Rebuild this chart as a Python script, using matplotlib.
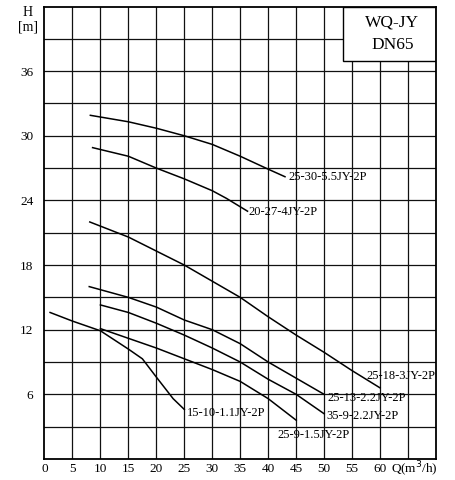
import matplotlib
matplotlib.use("Agg")
import matplotlib.pyplot as plt
from matplotlib.patches import Rectangle

plt.rcParams['font.family'] = ['Liberation Serif', 'DejaVu Serif']

# ---- data (Q in m3/h, H in m) ----
q_25_30 = [8.2, 15, 20, 25, 30, 35, 40, 43]
h_25_30 = [31.9, 31.3, 30.7, 30.0, 29.2, 28.1, 26.9, 26.2]

q_20_27 = [8.6, 15, 20, 25, 30, 32.5, 36.3]
h_20_27 = [28.9, 28.1, 27.0, 26.0, 24.9, 24.2, 23.0]

q_25_18 = [8.1, 15, 20, 25, 30, 35, 40, 45, 50, 55, 60]
h_25_18 = [22.0, 20.6, 19.3, 18.0, 16.5, 15.0, 13.2, 11.5, 9.9, 8.2, 6.6]

q_25_13 = [8.0, 15, 20, 25, 30, 35, 40, 45, 50]
h_25_13 = [16.0, 15.0, 14.1, 12.9, 12.0, 10.7, 9.0, 7.5, 6.0]

q_35_9 = [10, 15, 20, 25, 30, 35, 40, 45, 50]
h_35_9 = [14.3, 13.6, 12.6, 11.5, 10.3, 9.0, 7.4, 6.0, 4.2]

q_25_9 = [10, 15, 20, 25, 30, 35, 40, 45]
h_25_9 = [12.1, 11.2, 10.3, 9.3, 8.3, 7.2, 5.6, 3.6]

q_15_10 = [1.0, 5, 10, 15, 17.5, 20, 23, 25]
h_15_10 = [13.6, 12.8, 11.9, 10.2, 9.3, 7.6, 5.6, 4.6]

names = ["25-30-5.5JY-2P", "20-27-4JY-2P", "25-18-3JY-2P", "25-13-2.2JY-2P",
         "35-9-2.2JY-2P", "25-9-1.5JY-2P", "15-10-1.1JY-2P"]
label_pos = [(43.6, 26.2), (36.5, 22.9), (57.6, 7.7), (50.6, 5.7),
             (50.4, 4.0), (41.6, 2.2), (25.4, 4.3)]

x_ticks = [0, 5, 10, 15, 20, 25, 30, 35, 40, 45, 50, 55, 60]
y_ticks = [6, 12, 18, 24, 30, 36]

series = [(q_25_30, h_25_30), (q_20_27, h_20_27), (q_25_18, h_25_18),
          (q_25_13, h_25_13), (q_35_9, h_35_9), (q_25_9, h_25_9),
          (q_15_10, h_15_10)]

fig = plt.figure(figsize=(4.56, 4.80), dpi=100)
ax = fig.add_axes([44.5 / 456, 1 - 459 / 480, (436 - 44.5) / 456, (459 - 6.5) / 480])
ax.set_xlim(0, 70)
ax.set_ylim(0, 42)

# grid
for gx in range(5, 70, 5):
    ax.axvline(gx, color='#111111', lw=0.9, zorder=1)
for gy in range(3, 42, 3):
    ax.axhline(gy, color='#111111', lw=0.9, zorder=1)

for (q, h) in series:
    ax.plot(q, h, color='black', lw=1.1, zorder=3)

for name, (lx, ly) in zip(names, label_pos):
    ax.text(lx, ly, name, fontsize=9.0, ha='left', va='center', zorder=4)

# title box
ax.add_patch(Rectangle((53.4, 36.9), 16.6, 5.1, facecolor='white',
                       edgecolor='black', lw=1.0, zorder=5))
ax.text(62.2, 40.5, "WQ-JY", fontsize=12.5, ha='center', va='center', zorder=6)
ax.text(62.2, 38.4, "DN65", fontsize=12.5, ha='center', va='center', zorder=6)

ax.set_xticks(x_ticks)
ax.set_xticklabels([str(v) for v in x_ticks])
ax.set_yticks(y_ticks)
ax.set_yticklabels([str(v) for v in y_ticks])
ax.tick_params(length=0, labelsize=9.5)
ax.tick_params(axis='y', pad=8)
ax.tick_params(axis='x', pad=3)
for s in ax.spines.values():
    s.set_linewidth(1.3)
    s.set_zorder(7)

ax.text(70.3, -0.95, "Q(m$^3$/h)", fontsize=9.5, ha='right', va='center')
fig.text(28 / 456, 1 - 12 / 480, "H", fontsize=10, ha='center', va='center')
fig.text(28 / 456, 1 - 27 / 480, "[m]", fontsize=10, ha='center', va='center')

fig.savefig("out.png", dpi=100)
